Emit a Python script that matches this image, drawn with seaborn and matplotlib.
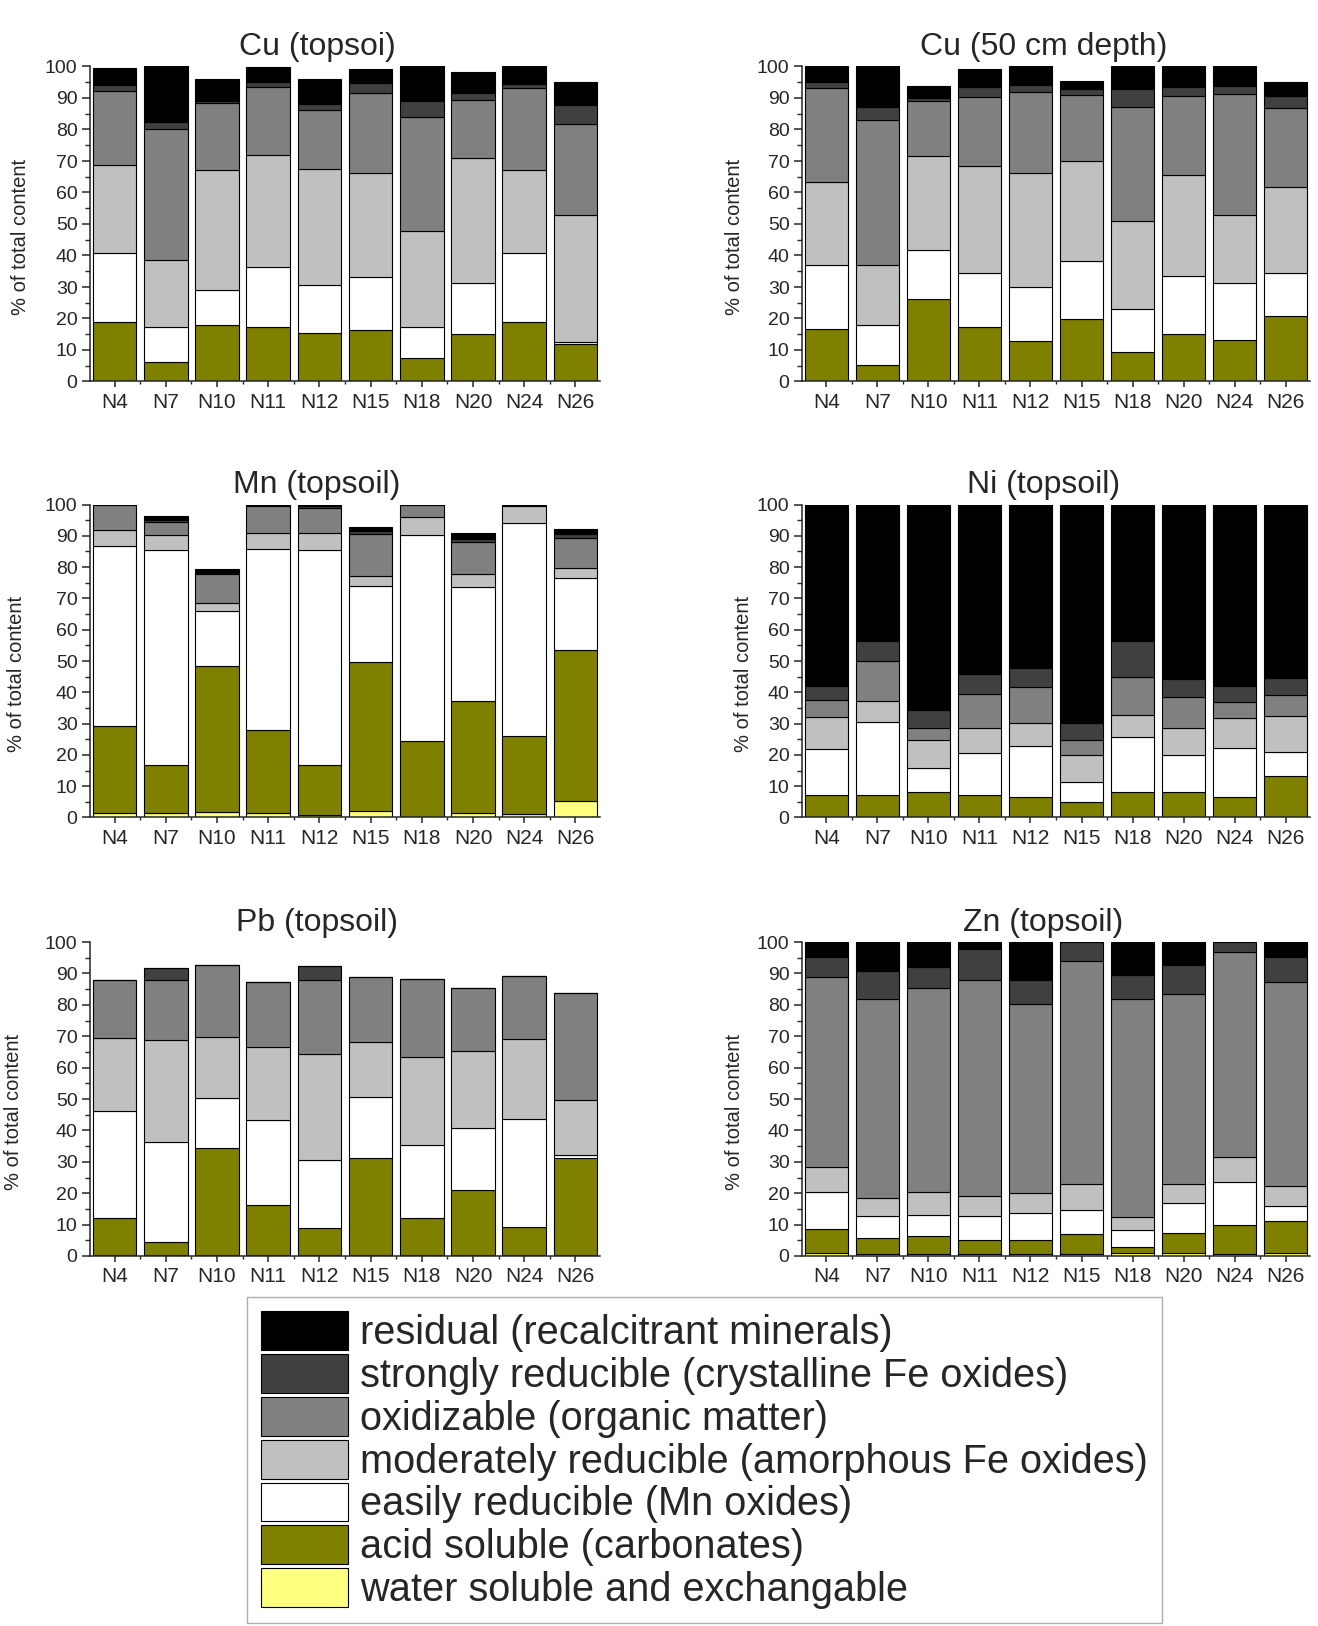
import seaborn as sns
import matplotlib.pyplot as plt
import numpy as np
import pandas as pd
from matplotlib.patches import Patch
from matplotlib.ticker import MultipleLocator, FixedLocator
from matplotlib import font_manager

# Sequential extraction of metals: share of each fraction (% of total content)

samples = ["N4", "N7", "N10", "N11", "N12", "N15", "N18", "N20", "N24", "N26"]

fractions = [
    "residual (recalcitrant minerals)",
    "strongly reducible (crystalline Fe oxides)",
    "oxidizable (organic matter)",
    "moderately reducible (amorphous Fe oxides)",
    "easily reducible (Mn oxides)",
    "acid soluble (carbonates)",
    "water soluble and exchangable",
]
fraction_colors = ["#000000", "#404040", "#808080", "#c0c0c0", "#ffffff", "#808000", "#ffff80"]

# Cu (topsoil)
cu_top_water = [0.3, 0.3, 0.3, 0.3, 0.3, 0.3, 0.3, 0.3, 0.3, 0.3]
cu_top_acid = [18.5, 5.8, 17.5, 17.1, 15.2, 16.0, 7.3, 14.9, 18.5, 11.6]
cu_top_easy = [22.1, 11.3, 11.1, 19.0, 15.1, 16.8, 9.6, 16.2, 21.9, 0.5]
cu_top_mod = [27.8, 21.2, 38.4, 35.6, 37.0, 33.0, 30.6, 39.4, 26.3, 40.4]
cu_top_oxid = [23.6, 41.4, 21.2, 21.6, 18.6, 25.6, 36.1, 18.6, 26.2, 29.0]
cu_top_strong = [1.7, 2.4, 0.6, 1.5, 1.8, 3.0, 5.3, 2.3, 1.1, 6.0]
cu_top_res = [5.4, 17.6, 6.8, 4.7, 7.9, 4.5, 10.8, 6.5, 5.7, 7.2]

# Cu (50 cm depth)
cu_deep_water = [0.3, 0.3, 0.3, 0.3, 0.3, 0.3, 0.3, 0.3, 0.3, 0.3]
cu_deep_acid = [16.5, 4.8, 25.8, 17.1, 12.4, 19.5, 9.0, 14.9, 13.0, 20.4]
cu_deep_easy = [20.1, 12.9, 15.5, 17.2, 17.2, 18.6, 13.8, 18.3, 18.1, 13.9]
cu_deep_mod = [26.5, 18.9, 30.0, 33.7, 36.2, 31.5, 28.0, 32.1, 21.6, 27.1]
cu_deep_oxid = [29.9, 46.2, 17.3, 22.1, 25.8, 20.9, 36.2, 25.1, 38.2, 25.2]
cu_deep_strong = [1.9, 4.2, 1.0, 3.0, 2.3, 1.9, 5.5, 2.7, 2.6, 3.8]
cu_deep_res = [4.8, 12.7, 3.8, 5.9, 5.8, 2.8, 7.2, 6.6, 6.2, 4.5]

# Mn (topsoil)
mn_water = [1.3, 1.3, 1.9, 1.5, 0.7, 2.2, 0.2, 1.3, 1.1, 5.3]
mn_acid = [27.9, 15.5, 46.4, 26.4, 16.0, 47.5, 24.2, 35.9, 24.9, 48.3]
mn_easy = [57.7, 68.8, 17.6, 58.0, 68.8, 24.4, 66.0, 36.4, 68.0, 22.9]
mn_mod = [4.9, 4.6, 2.5, 4.9, 5.3, 3.2, 5.7, 4.3, 5.5, 3.2]
mn_oxid = [8.2, 4.3, 9.3, 8.8, 8.1, 13.4, 3.9, 10.1, 0.3, 9.5]
mn_strong = [0.0, 0.5, 0.5, 0.2, 0.7, 0.7, 0.0, 0.9, 0.0, 1.4]
mn_res = [0.0, 1.3, 1.1, 0.2, 0.4, 1.3, 0.0, 1.9, 0.2, 1.5]

# Ni (topsoil)
ni_water = [0.3, 0.3, 0.3, 0.3, 0.3, 0.3, 0.3, 0.3, 0.3, 0.3]
ni_acid = [6.9, 6.9, 7.9, 6.9, 6.2, 4.5, 7.7, 7.9, 6.3, 12.8]
ni_easy = [14.8, 23.4, 7.7, 13.4, 16.5, 6.7, 17.8, 11.8, 15.6, 7.8]
ni_mod = [10.2, 6.6, 9.0, 8.0, 7.3, 8.5, 6.9, 8.6, 9.5, 11.5]
ni_oxid = [5.2, 12.7, 3.6, 10.8, 11.4, 4.7, 12.1, 9.9, 5.3, 6.6]
ni_strong = [4.7, 6.4, 5.7, 6.5, 6.2, 5.4, 11.7, 5.9, 5.1, 5.6]
ni_res = [57.9, 43.7, 65.8, 54.1, 52.1, 69.9, 43.5, 55.6, 57.9, 55.4]

# Pb (topsoil)
pb_water = [0.3, 0.3, 0.3, 0.3, 0.3, 0.3, 0.3, 0.3, 0.3, 0.3]
pb_acid = [11.8, 4.3, 34.2, 15.9, 8.5, 30.8, 11.8, 20.8, 8.9, 30.9]
pb_easy = [34.2, 31.8, 15.7, 27.0, 21.8, 19.5, 23.2, 19.6, 34.4, 0.9]
pb_mod = [23.2, 32.3, 19.4, 23.5, 33.7, 17.6, 28.1, 24.7, 25.5, 17.5]
pb_oxid = [18.4, 19.2, 23.1, 20.6, 23.6, 20.7, 24.8, 19.8, 20.2, 34.3]
pb_strong = [0.0, 3.9, 0.0, 0.0, 4.5, 0.0, 0.0, 0.0, 0.0, 0.0]
pb_res = [0.0, 0.0, 0.0, 0.0, 0.0, 0.0, 0.0, 0.0, 0.0, 0.0]

# Zn (topsoil)
zn_water = [1.0, 0.5, 0.5, 0.5, 0.5, 0.5, 1.0, 1.0, 0.5, 1.0]
zn_acid = [7.6, 5.2, 6.0, 4.5, 4.7, 6.6, 2.0, 6.2, 9.3, 10.0]
zn_easy = [11.7, 6.9, 6.6, 7.6, 8.4, 7.6, 5.3, 9.7, 13.7, 4.8]
zn_mod = [7.9, 6.0, 7.4, 6.4, 6.4, 8.1, 4.1, 5.9, 7.9, 6.5]
zn_oxid = [60.5, 63.4, 64.9, 68.8, 60.4, 71.2, 69.6, 60.7, 65.4, 65.0]
zn_strong = [6.6, 8.8, 6.6, 9.9, 7.5, 6.0, 7.4, 9.1, 3.2, 8.0]
zn_res = [4.7, 9.2, 8.0, 2.3, 12.1, 0.0, 10.6, 7.4, 0.0, 4.7]

panels = [
    ("Cu (topsoi)", [cu_top_res, cu_top_strong, cu_top_oxid, cu_top_mod, cu_top_easy, cu_top_acid, cu_top_water]),
    ("Cu (50 cm depth)", [cu_deep_res, cu_deep_strong, cu_deep_oxid, cu_deep_mod, cu_deep_easy, cu_deep_acid, cu_deep_water]),
    ("Mn (topsoil)", [mn_res, mn_strong, mn_oxid, mn_mod, mn_easy, mn_acid, mn_water]),
    ("Ni (topsoil)", [ni_res, ni_strong, ni_oxid, ni_mod, ni_easy, ni_acid, ni_water]),
    ("Pb (topsoil)", [pb_res, pb_strong, pb_oxid, pb_mod, pb_easy, pb_acid, pb_water]),
    ("Zn (topsoil)", [zn_res, zn_strong, zn_oxid, zn_mod, zn_easy, zn_acid, zn_water]),
]

sns.set_theme(style="ticks")
plt.rcParams["font.family"] = ["Liberation Sans", "DejaVu Sans"]
plt.rcParams["axes.linewidth"] = 1.1

installed = {f.name for f in font_manager.fontManager.ttflist}
if "Liberation Sans Narrow" in installed:
    ylab_font, ylab_size = ["Liberation Sans Narrow", "DejaVu Sans"], 16.5
else:
    ylab_font, ylab_size = ["Liberation Sans", "DejaVu Sans"], 14.5

W, H = 1318, 1626
fig = plt.figure(figsize=(W / 100, H / 100), dpi=100)

col_x = [(90, 600), (802, 1310)]
row_y = [(66.5, 381.5), (504.5, 817.5), (942, 1256)]
title_x = [0.445, 0.475]
ylabel_x = [-0.118, -0.115, -0.125, -0.097, -0.131, -0.115]
palette = dict(zip(fractions, fraction_colors))

for i, (title, series) in enumerate(panels):
    r, c = divmod(i, 2)
    x0, x1 = col_x[c]
    y0, y1 = row_y[r]
    ax = fig.add_axes([x0 / W, 1 - y1 / H, (x1 - x0) / W, (y1 - y0) / H])

    df = pd.DataFrame(
        [
            {"pos": j, "fraction": frac, "value": vals[j]}
            for frac, vals in zip(fractions, series)
            for j in range(len(samples))
        ]
    )
    sns.histplot(
        data=df, x="pos", hue="fraction", weights="value",
        hue_order=fractions, palette=palette,
        multiple="stack", discrete=True, shrink=0.85,
        alpha=1, edgecolor="black", linewidth=0.8,
        legend=False, ax=ax,
    )

    ax.set_xlim(-0.48, 9.48)
    ax.set_ylim(0, 100)
    ax.set_xticks(range(len(samples)))
    ax.set_xticklabels(samples, fontsize=15)
    ax.xaxis.set_minor_locator(FixedLocator(np.arange(0.5, 9, 1)))
    ax.yaxis.set_major_locator(MultipleLocator(10))
    ax.yaxis.set_minor_locator(MultipleLocator(5))
    ax.tick_params(axis="y", which="major", labelsize=14, length=6, width=1.1, pad=3)
    ax.tick_params(axis="y", which="minor", length=3.5, width=1)
    ax.tick_params(axis="x", which="major", length=4.5, width=1.1, pad=3.5)
    ax.tick_params(axis="x", which="minor", length=2.5, width=1)
    ax.set_xlabel("")
    ax.set_ylabel("% of total content", fontsize=ylab_size, family=ylab_font)
    ax.yaxis.set_label_coords(ylabel_x[i], 0.46)
    ax.set_title(title, fontsize=23, x=title_x[c], pad=8)
    sns.despine(ax=ax)

handles = [Patch(facecolor=col, edgecolor="black", linewidth=0.8) for col in fraction_colors]
leg = fig.legend(
    handles, fractions,
    loc="upper left", bbox_to_anchor=(247 / W, 1 - 1297 / H),
    fontsize=28.6, frameon=True, fancybox=False, edgecolor="#9a9a9a",
    handlelength=2.2, handleheight=1.13, handletextpad=0.3,
    labelspacing=0.05, borderpad=0.35, borderaxespad=0,
)
leg.get_frame().set_linewidth(1.0)

fig.savefig("out.png", dpi=100)
